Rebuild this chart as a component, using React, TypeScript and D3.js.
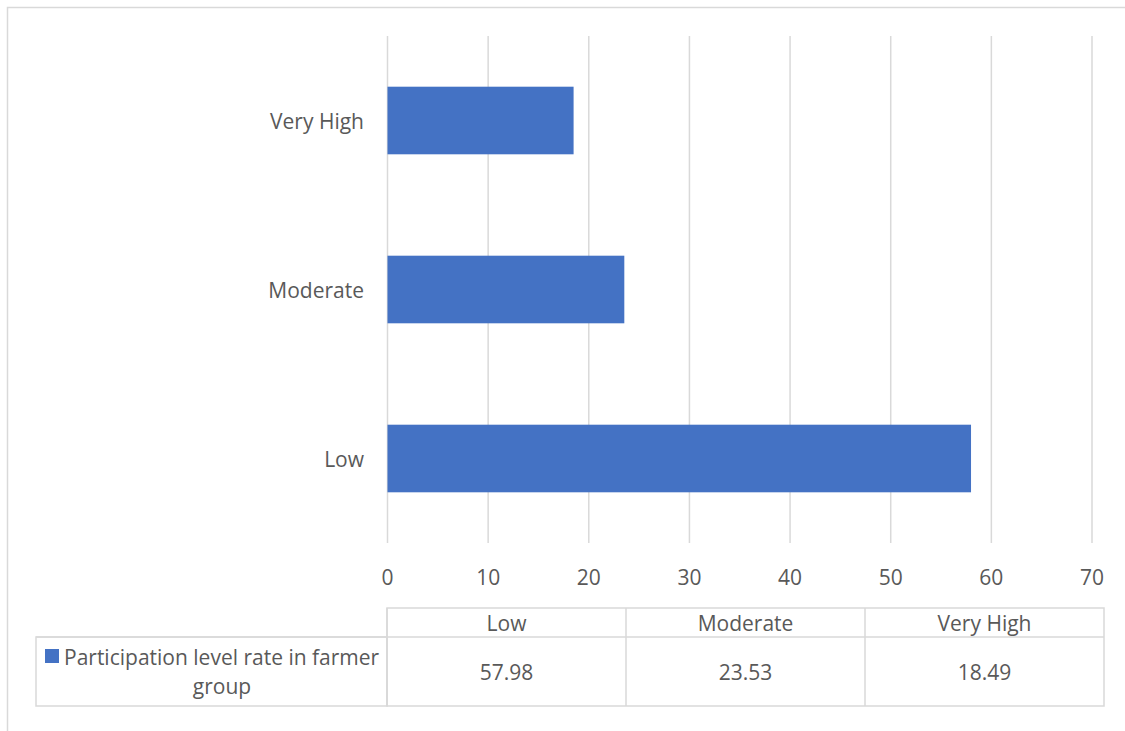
import React from "react";
import * as d3 from "d3";

const categories = ["Low", "Moderate", "Very High"];
const values = [57.98, 23.53, 18.49];
const valueLabels = ["57.98", "23.53", "18.49"];
const xTicks = [0, 10, 20, 30, 40, 50, 60, 70];
const seriesName = "Participation level rate in farmer group";

const W = 1125;
const H = 731;
const FONT = "'Open Sans', 'Noto Sans', sans-serif";
const FS = 21;
const TEXT = "#595959";
const GRID = "#d9d9d9";
const BAR = "#4472C4";

export default function App() {
  const x = d3.scaleLinear().domain([0, 70]).range([387.5, 1092]);
  const y = d3
    .scaleBand<string>()
    .domain([...categories].reverse())
    .range([36, 543])
    .paddingInner(0.6)
    .paddingOuter(0.3);

  const colX = d3.scaleBand<string>().domain(categories).range([387, 1104]);
  const tTop = 608, tMid = 637, tBot = 706, legL = 36;

  return (
    <svg
      width={W}
      height={H}
      style={{ position: "absolute", left: 0, top: 0, background: "#fff" }}
      fontFamily={FONT}
    >
      {/* outer chart border */}
      <path d={`M7.5,${H} V7.5 H${W}`} fill="none" stroke={GRID} strokeWidth={1.5} />
      {/* gridlines */}
      {xTicks.map((t) => (
        <line key={t} x1={x(t)} x2={x(t)} y1={36} y2={543} stroke={GRID} strokeWidth={1.5} />
      ))}
      {/* bars */}
      {categories.map((c, i) => (
        <rect
          key={c}
          x={x(0)}
          y={y(c)}
          width={x(values[i]) - x(0)}
          height={y.bandwidth()}
          fill={BAR}
        />
      ))}
      {/* category labels */}
      {categories.map((c) => (
        <text
          key={c}
          x={364}
          y={(y(c) as number) + y.bandwidth() / 2}
          textAnchor="end"
          dominantBaseline="central"
          fontSize={FS}
          fill={TEXT}
        >
          {c}
        </text>
      ))}
      {/* x tick labels */}
      {xTicks.map((t) => (
        <text
          key={t}
          x={x(t)}
          y={577}
          textAnchor="middle"
          dominantBaseline="central"
          fontSize={FS}
          fill={TEXT}
        >
          {t}
        </text>
      ))}
      {/* data table */}
      <g stroke={GRID} strokeWidth={1.5} fill="none">
        <rect x={387} y={tTop} width={1104 - 387} height={tBot - tTop} />
        <line x1={legL} x2={1104} y1={tMid} y2={tMid} />
        <rect x={legL} y={tMid} width={387 - legL} height={tBot - tMid} />
        {categories.map((c) => (
          <line key={c} x1={colX(c)} x2={colX(c)} y1={tTop} y2={tBot} />
        ))}
      </g>
      {categories.map((c, i) => (
        <g key={c}>
          <text
            x={(colX(c) as number) + colX.bandwidth() / 2}
            y={(tTop + tMid) / 2}
            textAnchor="middle"
            dominantBaseline="central"
            fontSize={FS}
            fill={TEXT}
          >
            {c}
          </text>
          <text
            x={(colX(c) as number) + colX.bandwidth() / 2}
            y={(tMid + tBot) / 2}
            textAnchor="middle"
            dominantBaseline="central"
            fontSize={FS}
            fill={TEXT}
          >
            {valueLabels[i]}
          </text>
        </g>
      ))}
      {/* legend key */}
      <rect x={45} y={649} width={14} height={14} fill={BAR} />
      <text x={64} y={657} dominantBaseline="central" fontSize={FS} fill={TEXT}>
        {seriesName.split(" group")[0]}
      </text>
      <text x={222} y={686} textAnchor="middle" dominantBaseline="central" fontSize={FS} fill={TEXT}>
        group
      </text>
    </svg>
  );
}
